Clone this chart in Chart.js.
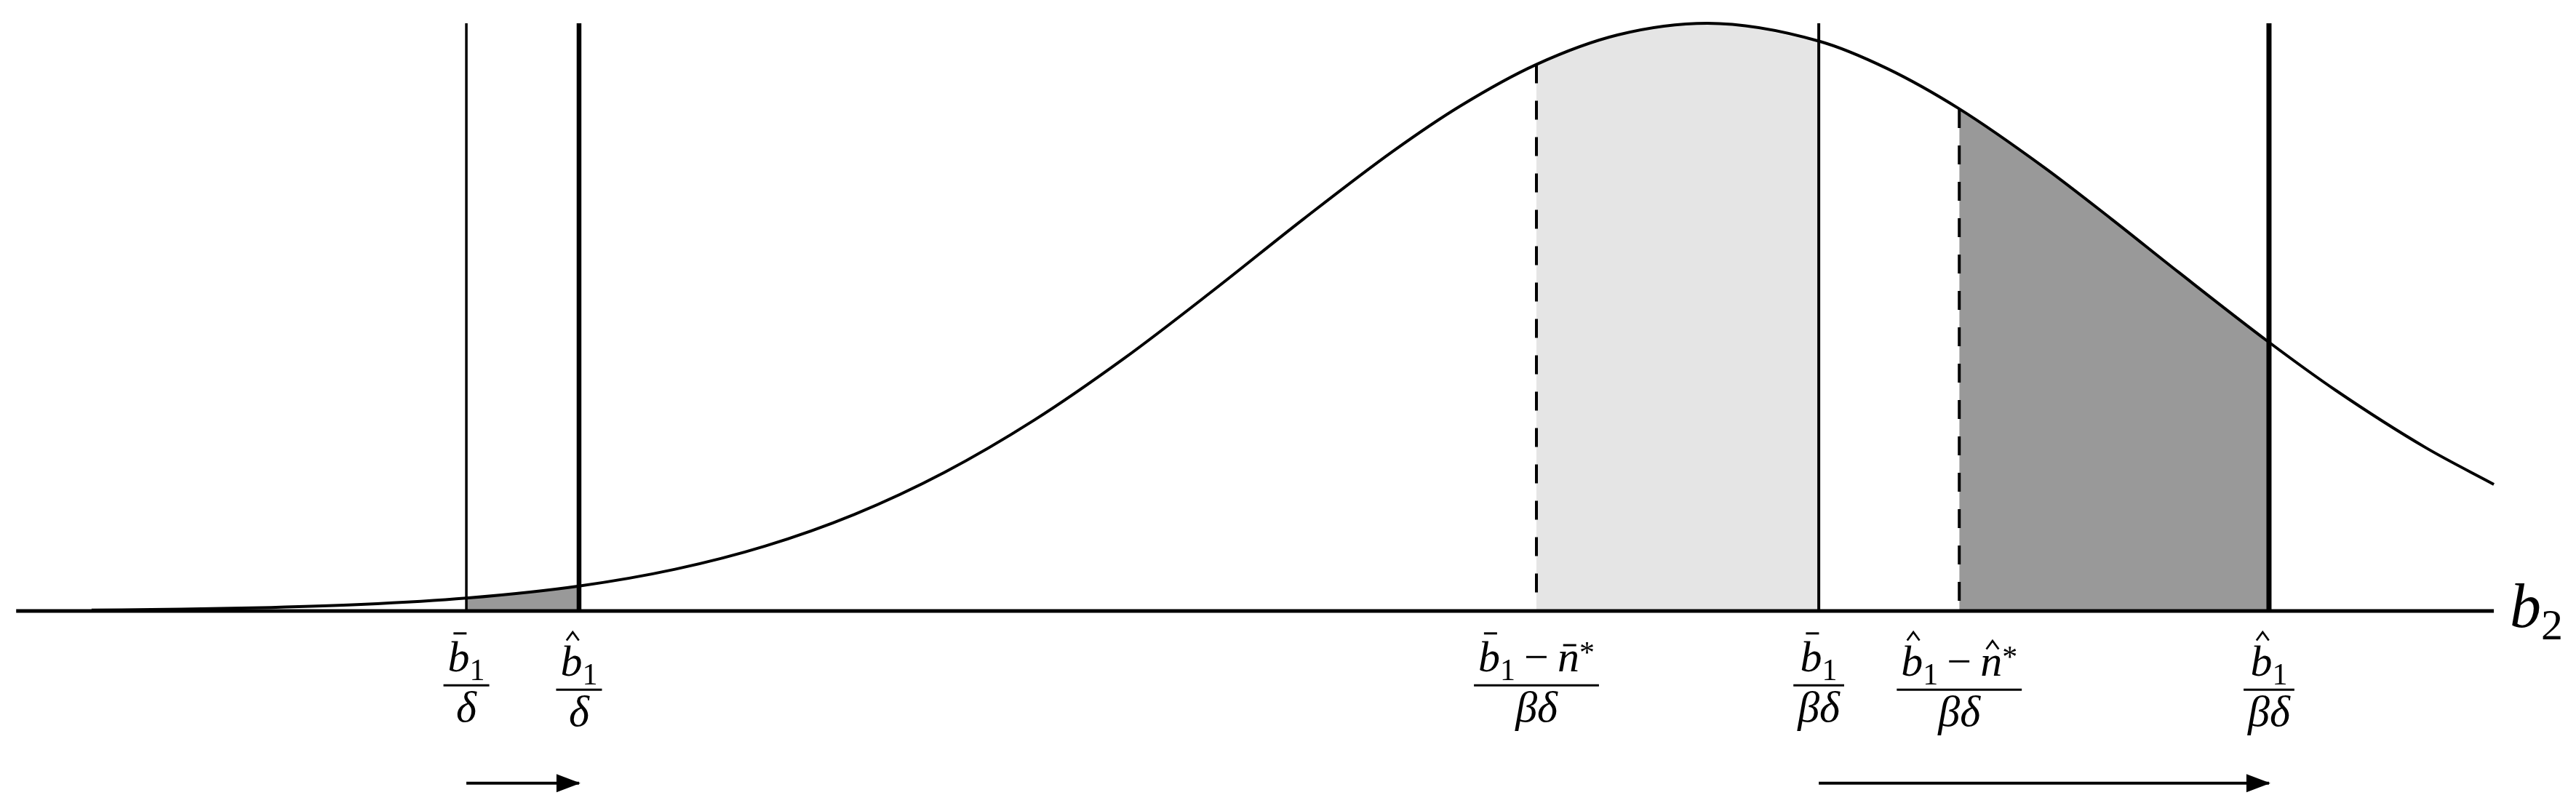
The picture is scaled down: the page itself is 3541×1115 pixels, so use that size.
<!DOCTYPE html>
<html lang="en">
<head>
    <meta charset="UTF-8">
    <title>b2 density</title>
    <script src="https://cdn.jsdelivr.net/npm/chart.js"></script>
    <style>
        html, body { margin: 0; padding: 0; background: #fff; }
        #wrap { width: 3541px; height: 1115px; position: relative; }
    </style>
</head>
<body>
<div id="wrap"><canvas id="densityChart"></canvas></div>
<script>
    // b2 measured from the mode (one unit ~ one std. dev.), height relative to the peak
    var curveX = [-3.6, -3.4, -3.2, -3.0, -2.765, -2.514, -2.3, -2.1, -1.9, -1.7, -1.5, -1.3, -1.1, -0.9,
                  -0.7, -0.55, -0.381, -0.2, 0, 0.248, 0.4, 0.561, 0.75, 0.9, 1.05, 1.251, 1.4, 1.6, 1.752];
    var curveY = [0.0015, 0.0031, 0.0060, 0.0111, 0.0219, 0.0424, 0.0710, 0.1103, 0.1645, 0.2358, 0.3247, 0.4296, 0.5461, 0.6670,
                  0.7827, 0.8596, 0.9300, 0.9802, 1.0, 0.9697, 0.9231, 0.8544, 0.7548, 0.6670, 0.5762, 0.4573, 0.3753, 0.2780, 0.2155];

    // cut-offs on the b2 axis and how high their marker goes
    var cutX = [-2.765, -2.514, -0.381, 0.248, 0.561, 1.251];
    var cutTop = [1.0, 1.0, 0.930, 1.0, 0.854, 1.0];
    var cutNum = ['b\u0304\u2081', 'b\u0302\u2081', 'b\u0304\u2081\u2212n\u0304*', 'b\u0304\u2081', 'b\u0302\u2081\u2212n\u0302*', 'b\u0302\u2081'];
    var cutDen = ['\u03b4', '\u03b4', '\u03b2\u03b4', '\u03b2\u03b4', '\u03b2\u03b4', '\u03b2\u03b4'];

    // shaded areas under the curve [from, to]
    var bandFrom = [-2.765, -0.381, 0.561];
    var bandTo = [-2.514, 0.248, 1.251];

    // shifts shown by arrows under the axis [from, to]
    var arrowFrom = [-2.765, 0.248];
    var arrowTo = [-2.514, 1.251];

    var axisFrom = -3.768, axisTo = 1.752;
    var axisName = 'b\u2082';

    // styles
    var cutWidth = [3.5, 6.5, 4, 4, 4, 7];
    var cutDash = [[], [], [26, 24], [], [26, 24], []];
    var bandColor = ['#999999', '#e5e5e5', '#999999'];
    var arrowLevel = -0.293;
    var FONT = '"Liberation Serif", "DejaVu Serif", serif';

    function curveSlice(a, b) {
        var pts = [];
        for (var i = 0; i < curveX.length; i++) {
            if (curveX[i] >= a - 1e-9 && curveX[i] <= b + 1e-9) pts.push({x: curveX[i], y: curveY[i]});
        }
        return pts;
    }

    var datasets = [];

    // the density curve
    datasets.push({
        data: curveX.map(function (x, i) { return {x: x, y: curveY[i]}; }),
        borderColor: '#000', borderWidth: 4, pointRadius: 0,
        cubicInterpolationMode: 'monotone', fill: false, order: 1
    });

    // shaded bands
    bandFrom.forEach(function (a, i) {
        datasets.push({
            data: curveSlice(a, bandTo[i]),
            borderColor: 'rgba(0,0,0,0)', borderWidth: 0, pointRadius: 0,
            backgroundColor: bandColor[i], fill: 'origin',
            cubicInterpolationMode: 'monotone', order: 5
        });
    });

    // vertical cut-off lines (drawn from the top so dashes start at the curve)
    cutX.forEach(function (x, i) {
        datasets.push({
            data: [{x: x, y: cutTop[i]}, {x: x, y: 0}],
            borderColor: '#000', borderWidth: cutWidth[i], borderDash: cutDash[i],
            borderCapStyle: 'butt', pointRadius: 0, fill: false, order: 2
        });
    });

    // b2 axis
    datasets.push({
        data: [{x: axisFrom, y: 0}, {x: axisTo, y: 0}],
        borderColor: '#000', borderWidth: 5, pointRadius: 0, fill: false, order: 0
    });

    // arrow shafts
    arrowFrom.forEach(function (a, i) {
        datasets.push({
            data: [{x: a, y: arrowLevel}, {x: arrowTo[i], y: arrowLevel}],
            borderColor: '#000', borderWidth: 4, pointRadius: 0, fill: false, order: 0,
            isArrow: true
        });
    });

    // tiny math typesetter for labels like "b̄₁−n̄*"
    var SUBS = {'\u2080': '0', '\u2081': '1', '\u2082': '2'};
    function parseMath(s) {
        var out = [];
        for (var c of s) {
            if (c === '\u0304') { out[out.length - 1].accent = 'bar'; continue; }
            if (c === '\u0302') { out[out.length - 1].accent = 'hat'; continue; }
            if (SUBS[c]) out.push({ch: SUBS[c], kind: 'sub'});
            else if (c === '*') out.push({ch: '*', kind: 'sup'});
            else if (c === '\u2212') out.push({ch: c, kind: 'op'});
            else out.push({ch: c, kind: 'var'});
        }
        return out;
    }
    function fontFor(t, S) {
        if (t.kind === 'var') return 'italic ' + S + 'px ' + FONT;
        if (t.kind === 'op') return S + 'px ' + FONT;
        return Math.round(S * 0.7) + 'px ' + FONT;
    }
    function runWidth(ctx, toks, S) {
        var w = 0;
        toks.forEach(function (t) {
            ctx.font = fontFor(t, S);
            w += ctx.measureText(t.ch).width + (t.kind === 'op' ? 0.4 * S : 0);
        });
        return w;
    }
    function drawAccent(ctx, t, x, w, base, S) {
        var tall = /[bdfhklt]/.test(t.ch);
        var cx = x + w * 0.56;
        if (t.accent === 'bar') {
            var y = base - (tall ? 0.87 : 0.6) * S;
            ctx.fillRect(cx - 0.15 * S, y - 0.025 * S, 0.3 * S, 0.05 * S);
        } else {
            var top = base - (tall ? 1.0 : 0.8) * S;
            ctx.lineWidth = 0.045 * S;
            ctx.beginPath();
            ctx.moveTo(cx - 0.14 * S, top + 0.19 * S);
            ctx.lineTo(cx, top);
            ctx.lineTo(cx + 0.14 * S, top + 0.19 * S);
            ctx.stroke();
        }
    }
    function drawRun(ctx, toks, x, base, S) {
        toks.forEach(function (t) {
            ctx.font = fontFor(t, S);
            var w = ctx.measureText(t.ch).width;
            var pad = t.kind === 'op' ? 0.2 * S : 0;
            var y = base + (t.kind === 'sub' ? 0.2 * S : t.kind === 'sup' ? -0.2 * S : 0);
            ctx.fillText(t.ch, x + pad, y);
            if (t.accent) drawAccent(ctx, t, x + pad, w, y, S);
            x += w + 2 * pad;
        });
    }
    function drawFraction(ctx, cx, top, num, den, S) {
        var n = parseMath(num), d = parseMath(den);
        var hasHat = n.some(function (t) { return t.accent === 'hat'; });
        var base = top + (hasHat ? 1.0 : 0.9) * S;
        var nw = runWidth(ctx, n, S), dw = runWidth(ctx, d, S);
        var bw = Math.max(nw, dw) + 0.2 * S;
        drawRun(ctx, n, cx - nw / 2, base, S);
        var barY = base + 0.32 * S;
        ctx.fillRect(cx - bw / 2, barY - 0.025 * S, bw, 0.05 * S);
        drawRun(ctx, d, cx - dw / 2, barY + 0.83 * S, S);
    }

    var labelPlugin = {
        id: 'mathLabels',
        afterDatasetsDraw: function (chart) {
            var ctx = chart.ctx, xs = chart.scales.x, ys = chart.scales.y;
            var y0 = ys.getPixelForValue(0);
            ctx.save();
            ctx.fillStyle = '#000';
            ctx.strokeStyle = '#000';
            ctx.textBaseline = 'alphabetic';
            ctx.textAlign = 'left';

            cutX.forEach(function (v, i) {
                drawFraction(ctx, xs.getPixelForValue(v), y0 + 29, cutNum[i], cutDen[i], 60);
            });

            drawRun(ctx, parseMath(axisName), xs.getPixelForValue(axisTo) + 22, y0 + 22, 86);

            // arrow heads at the end of each shaft
            chart.data.datasets.forEach(function (ds, i) {
                if (!ds.isArrow) return;
                var pts = chart.getDatasetMeta(i).data;
                var tip = pts[pts.length - 1];
                ctx.beginPath();
                ctx.moveTo(tip.x + 2, tip.y);
                ctx.lineTo(tip.x - 31, tip.y - 12.5);
                ctx.lineTo(tip.x - 31, tip.y + 12.5);
                ctx.closePath();
                ctx.fill();
            });
            ctx.restore();
        }
    };

    var ctx = document.getElementById('densityChart').getContext('2d');
    var densityChart = new Chart(ctx, {
        type: 'line',
        data: { datasets: datasets },
        options: {
            responsive: true,
            maintainAspectRatio: false,
            devicePixelRatio: 1,
            animation: false,
            events: [],
            layout: { padding: 0 },
            plugins: { legend: { display: false }, tooltip: { enabled: false } },
            scales: {
                x: { type: 'linear', display: false, min: -3.804, max: 1.935 },
                y: { type: 'linear', display: false, min: -0.3403, max: 1.0396 }
            }
        },
        plugins: [labelPlugin]
    });
</script>
</body>
</html>
